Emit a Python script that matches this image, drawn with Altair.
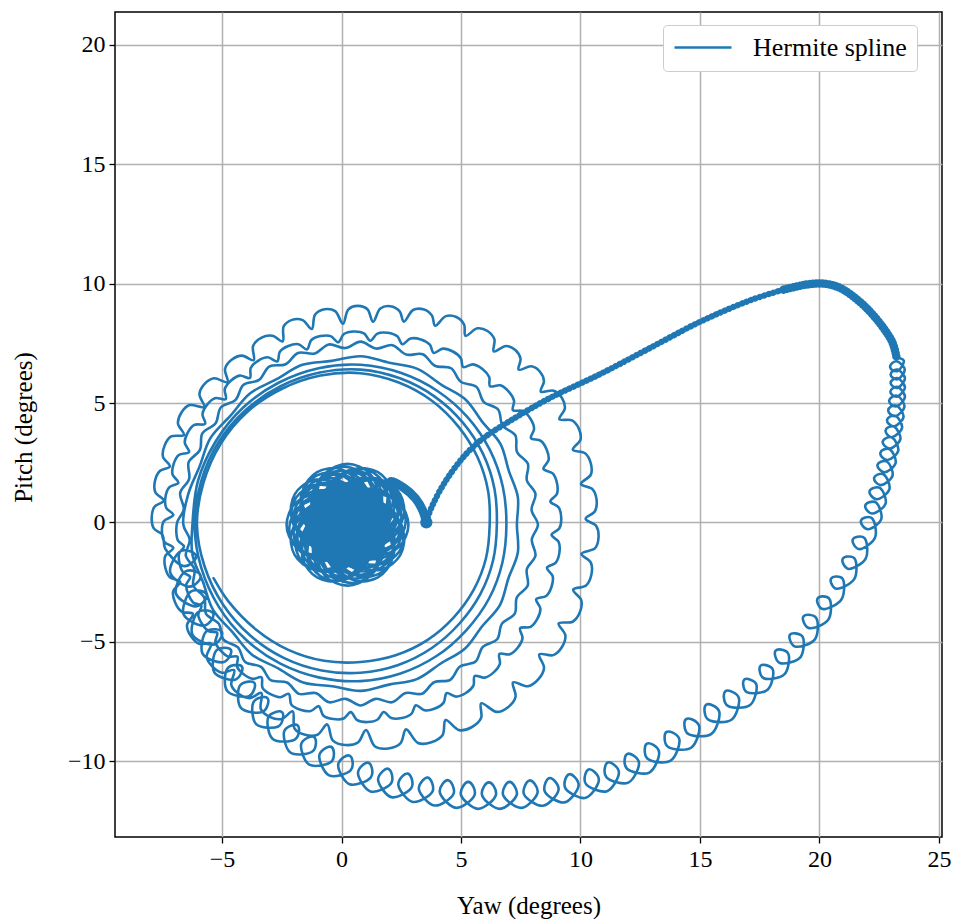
import altair as alt
import pandas as pd

BLUE = "#1f77b4"
SERIES = "Hermite spline"
FONT = "Liberation Serif"

X_DOMAIN = [-9.48, 25.13]
Y_DOMAIN = [-13.18, 21.38]
X_TICKS = [-5, 0, 5, 10, 15, 20, 25]
Y_TICKS = [-10, -5, 0, 5, 10, 15, 20]

# ---- inner cluster: (angle deg, radius) readings about the cluster centre ----
CLUSTER_POLE = (0.25, -0.10)
CLUSTER = [
    (0, 0), (-67.5, .98), (-45, 1.8), (-22.5, 2.36), (0, 2.55), (22.5, 2.36), (45, 1.8), (67.5, .98),
    (0, 0), (-52.5, .88), (-30, 1.63), (-7.5, 2.13), (15, 2.3), (37.5, 2.13), (60, 1.63), (82.5, .88),
    (0, 0), (-37.5, .98), (-15, 1.8), (7.5, 2.36), (30, 2.55), (52.5, 2.36), (75, 1.8), (97.5, .98),
    (0, 0), (-22.5, .88), (0, 1.63), (22.5, 2.13), (45, 2.3), (67.5, 2.13), (90, 1.63), (112.5, .88),
    (0, 0), (-7.5, .98), (15, 1.8), (37.5, 2.36), (60, 2.55), (82.5, 2.36), (105, 1.8), (127.5, .98),
    (0, 0), (7.5, .88), (30, 1.63), (52.5, 2.13), (75, 2.3), (97.5, 2.13), (120, 1.63), (142.5, .88),
    (0, 0), (22.5, .98), (45, 1.8), (67.5, 2.36), (90, 2.55), (112.5, 2.36), (135, 1.8), (157.5, .98),
    (0, 0), (37.5, .88), (60, 1.63), (82.5, 2.13), (105, 2.3), (127.5, 2.13), (150, 1.63), (172.5, .88),
    (0, 0), (52.5, .98), (75, 1.8), (97.5, 2.36), (120, 2.55), (142.5, 2.36), (165, 1.8), (187.5, .98),
    (0, 0), (67.5, .88), (90, 1.63), (112.5, 2.13), (135, 2.3), (157.5, 2.13), (180, 1.63), (202.5, .88),
    (0, 0), (82.5, .98), (105, 1.8), (127.5, 2.36), (150, 2.55), (172.5, 2.36), (195, 1.8), (217.5, .98),
    (0, 0), (97.5, .88), (120, 1.63), (142.5, 2.13), (165, 2.3), (187.5, 2.13), (210, 1.63), (232.5, .88),
    (0, 0), (112.5, .98), (135, 1.8), (157.5, 2.36), (180, 2.55), (202.5, 2.36), (225, 1.8), (247.5, .98),
    (0, 0), (127.5, .88), (150, 1.63), (172.5, 2.13), (195, 2.3), (217.5, 2.13), (240, 1.63), (262.5, .88),
    (0, 0), (142.5, .98), (165, 1.8), (187.5, 2.36), (210, 2.55), (232.5, 2.36), (255, 1.8), (277.5, .98),
    (0, 0), (157.5, .88), (180, 1.63), (202.5, 2.13), (225, 2.3), (247.5, 2.13), (270, 1.63), (292.5, .88),
    (0, 0), (172.5, .98), (195, 1.8), (217.5, 2.36), (240, 2.55), (262.5, 2.36), (285, 1.8), (307.5, .98),
    (0, 0), (187.5, .88), (210, 1.63), (232.5, 2.13), (255, 2.3), (277.5, 2.13), (300, 1.63), (322.5, .88),
    (0, 0), (202.5, .98), (225, 1.8), (247.5, 2.36), (270, 2.55), (292.5, 2.36), (315, 1.8), (337.5, .98),
    (0, 0), (217.5, .88), (240, 1.63), (262.5, 2.13), (285, 2.3), (307.5, 2.13), (330, 1.63), (352.5, .88),
    (0, 0), (232.5, .98), (255, 1.8), (277.5, 2.36), (300, 2.55), (322.5, 2.36), (345, 1.8), (7.5, .98),
    (0, 0), (247.5, .88), (270, 1.63), (292.5, 2.13), (315, 2.3), (337.5, 2.13), (0, 1.63), (22.5, .88),
    (0, 0), (262.5, .98), (285, 1.8), (307.5, 2.36), (330, 2.55), (352.5, 2.36), (15, 1.8), (37.5, .98),
    (0, 0), (277.5, .88), (300, 1.63), (322.5, 2.13), (345, 2.3), (7.5, 2.13), (30, 1.63), (52.5, .88),
    # second pass of the rosette
    (0, 0), (-60, .94), (-37.5, 1.73), (-15, 2.26), (7.5, 2.45), (30, 2.26), (52.5, 1.73), (75, .94),
    (0, 0), (-45, .84), (-22.5, 1.56), (0, 2.03), (22.5, 2.2), (45, 2.03), (67.5, 1.56), (90, .84),
    (0, 0), (-30, .94), (-7.5, 1.73), (15, 2.26), (37.5, 2.45), (60, 2.26), (82.5, 1.73), (105, .94),
    (0, 0), (-15, .84), (7.5, 1.56), (30, 2.03), (52.5, 2.2), (75, 2.03), (97.5, 1.56), (120, .84),
    (0, 0), (0, .94), (22.5, 1.73), (45, 2.26), (67.5, 2.45), (90, 2.26), (112.5, 1.73), (135, .94),
    (0, 0), (15, .84), (37.5, 1.56), (60, 2.03), (82.5, 2.2), (105, 2.03), (127.5, 1.56), (150, .84),
    (0, 0), (30, .94), (52.5, 1.73), (75, 2.26), (97.5, 2.45), (120, 2.26), (142.5, 1.73), (165, .94),
    (0, 0), (45, .84), (67.5, 1.56), (90, 2.03), (112.5, 2.2), (135, 2.03), (157.5, 1.56), (180, .84),
    (0, 0), (60, .94), (82.5, 1.73), (105, 2.26), (127.5, 2.45), (150, 2.26), (172.5, 1.73), (195, .94),
    (0, 0), (75, .84), (97.5, 1.56), (120, 2.03), (142.5, 2.2), (165, 2.03), (187.5, 1.56), (210, .84),
    (0, 0), (90, .94), (112.5, 1.73), (135, 2.26), (157.5, 2.45), (180, 2.26), (202.5, 1.73), (225, .94),
    (0, 0), (105, .84), (127.5, 1.56), (150, 2.03), (172.5, 2.2), (195, 2.03), (217.5, 1.56), (240, .84),
    (0, 0), (120, .94), (142.5, 1.73), (165, 2.26), (187.5, 2.45), (210, 2.26), (232.5, 1.73), (255, .94),
    (0, 0), (135, .84), (157.5, 1.56), (180, 2.03), (202.5, 2.2), (225, 2.03), (247.5, 1.56), (270, .84),
    (0, 0), (150, .94), (172.5, 1.73), (195, 2.26), (217.5, 2.45), (240, 2.26), (262.5, 1.73), (285, .94),
    (0, 0), (165, .84), (187.5, 1.56), (210, 2.03), (232.5, 2.2), (255, 2.03), (277.5, 1.56), (300, .84),
    (0, 0), (180, .94), (202.5, 1.73), (225, 2.26), (247.5, 2.45), (270, 2.26), (292.5, 1.73), (315, .94),
    (0, 0), (195, .84), (217.5, 1.56), (240, 2.03), (262.5, 2.2), (285, 2.03), (307.5, 1.56), (330, .84),
    (0, 0), (210, .94), (232.5, 1.73), (255, 2.26), (277.5, 2.45), (300, 2.26), (322.5, 1.73), (345, .94),
    (0, 0), (225, .84), (247.5, 1.56), (270, 2.03), (292.5, 2.2), (315, 2.03), (337.5, 1.56), (360, .84),
    (0, 0), (240, .94), (262.5, 1.73), (285, 2.26), (307.5, 2.45), (330, 2.26), (352.5, 1.73), (375, .94),
    (0, 0), (255, .84), (277.5, 1.56), (300, 2.03), (322.5, 2.2), (345, 2.03), (367.5, 1.56), (390, .84),
    (0, 0), (270, .94), (292.5, 1.73), (315, 2.26), (337.5, 2.45), (360, 2.26), (382.5, 1.73), (405, .94),
    (0, 0), (285, .84), (307.5, 1.56), (330, 2.03), (352.5, 2.2), (375, 2.03), (397.5, 1.56), (420, .84),
    # exit towards the hook
    (0, 0), (-22.5, .98), (0, 1.8), (22.5, 2.36), (45, 2.55),
]

HOOK = [(2.60, 1.45), (3.10, 1.00), (3.42, 0.45), (3.55, 0.02)]
BLOB = [(3.55, 0.0)]

ARC_A = [(3.62, 0.25), (3.80, 0.70), (4.10, 1.30), (4.50, 1.95), (5.20, 2.85), (5.90, 3.50),
         (7.30, 4.40), (8.70, 5.20), (10.80, 6.20), (12.90, 7.30), (15.00, 8.40), (17.10, 9.30),
         (18.50, 9.75)]
ARC_B = [(19.50, 9.97), (20.20, 10.00), (20.80, 9.85), (21.30, 9.55),
         (22.00, 8.95), (22.60, 8.25), (23.05, 7.55), (23.22, 6.95)]

# nutation loops along the big ellipse:
# connector, front, front shoulder, apex, back shoulder, back  (one row per loop)
LOOPS = [
    (23.53, 6.78), (23.29, 6.35), (23.07, 6.37), (22.96, 6.50), (23.03, 6.66), (23.23, 6.75),
    (23.57, 6.41), (23.29, 6.00), (23.08, 6.05), (22.98, 6.19), (23.06, 6.33), (23.27, 6.40),
    (23.58, 6.03), (23.28, 5.64), (23.07, 5.70), (22.98, 5.84), (23.07, 5.98), (23.28, 6.04),
    (23.58, 5.65), (23.26, 5.27), (23.05, 5.34), (22.97, 5.48), (23.07, 5.62), (23.28, 5.67),
    (23.58, 5.26), (23.23, 4.86), (23.00, 4.94), (22.92, 5.10), (23.03, 5.25), (23.27, 5.30),
    (23.56, 4.85), (23.19, 4.45), (22.96, 4.54), (22.88, 4.70), (22.99, 4.85), (23.23, 4.89),
    (23.52, 4.42), (23.13, 4.02), (22.91, 4.12), (22.83, 4.29), (22.95, 4.43), (23.19, 4.46),
    (23.46, 3.97), (23.05, 3.57), (22.84, 3.68), (22.77, 3.85), (22.89, 3.99), (23.13, 4.01),
    (23.39, 3.49), (22.96, 3.09), (22.72, 3.21), (22.65, 3.39), (22.79, 3.53), (23.05, 3.55),
    (23.30, 3.00), (22.85, 2.61), (22.62, 2.73), (22.55, 2.91), (22.69, 3.05), (22.95, 3.06),
    (23.19, 2.49), (22.73, 2.10), (22.50, 2.23), (22.43, 2.41), (22.57, 2.54), (22.84, 2.54),
    (23.06, 1.96), (22.58, 1.56), (22.35, 1.69), (22.29, 1.87), (22.43, 2.00), (22.70, 2.00),
    (22.93, 1.39), (22.41, 0.97), (22.16, 1.12), (22.10, 1.31), (22.26, 1.44), (22.55, 1.43),
    (22.77, 0.79), (22.23, 0.37), (21.98, 0.52), (21.92, 0.71), (22.08, 0.84), (22.37, 0.83),
    (22.59, 0.15), (22.04, -0.29), (21.80, -0.13), (21.74, 0.07), (21.91, 0.20), (22.20, 0.17),
    (22.33, -0.63), (21.68, -1.12), (21.44, -0.93), (21.40, -0.71), (21.59, -0.60), (21.89, -0.66),
    (21.94, -1.51), (21.23, -1.95), (21.00, -1.74), (20.98, -1.52), (21.17, -1.43), (21.47, -1.51),
    (21.46, -2.37), (20.71, -2.78), (20.50, -2.56), (20.49, -2.35), (20.68, -2.27), (20.97, -2.36),
    (20.92, -3.23), (20.14, -3.63), (19.93, -3.40), (19.93, -3.18), (20.13, -3.10), (20.42, -3.21),
    (20.37, -4.08), (19.57, -4.43), (19.34, -4.17), (19.33, -3.94), (19.55, -3.87), (19.87, -4.01),
    (19.81, -4.90), (18.98, -5.20), (18.77, -4.93), (18.77, -4.70), (18.99, -4.65), (19.30, -4.80),
    (19.19, -5.67), (18.34, -5.89), (18.15, -5.60), (18.17, -5.37), (18.40, -5.33), (18.70, -5.51),
    (18.53, -6.37), (17.67, -6.53), (17.50, -6.23), (17.54, -6.00), (17.77, -5.98), (18.05, -6.17),
    (17.83, -7.01), (16.96, -7.11), (16.81, -6.80), (16.86, -6.58), (17.09, -6.58), (17.36, -6.79),
    (17.10, -7.65), (16.17, -7.69), (16.00, -7.32), (16.07, -7.07), (16.33, -7.09), (16.63, -7.36),
    (16.32, -8.27), (15.35, -8.26), (15.19, -7.89), (15.26, -7.64), (15.52, -7.66), (15.81, -7.94),
    (15.48, -8.86), (14.51, -8.86), (14.35, -8.49), (14.42, -8.24), (14.68, -8.26), (14.97, -8.54),
    (14.63, -9.44), (13.66, -9.40), (13.52, -9.02), (13.60, -8.78), (13.86, -8.81), (14.14, -9.10),
    (13.76, -9.99), (12.81, -9.90), (12.69, -9.51), (12.78, -9.27), (13.03, -9.31), (13.29, -9.62),
    (12.88, -10.48), (11.95, -10.32), (11.85, -9.93), (11.96, -9.70), (12.21, -9.76), (12.45, -10.08),
    (12.00, -10.90), (11.09, -10.68), (11.02, -10.28), (11.14, -10.06), (11.39, -10.14), (11.61, -10.48),
    (11.11, -11.26), (10.23, -10.96), (10.20, -10.56), (10.34, -10.35), (10.58, -10.45), (10.77, -10.80),
    (10.22, -11.54), (9.38, -11.16), (9.37, -10.75), (9.53, -10.55), (9.76, -10.67), (9.92, -11.04),
    (9.33, -11.73), (8.52, -11.30), (8.54, -10.90), (8.71, -10.71), (8.93, -10.84), (9.08, -11.22),
    (8.43, -11.87), (7.64, -11.40), (7.69, -11.00), (7.87, -10.81), (8.08, -10.95), (8.20, -11.34),
    (7.53, -11.96), (6.77, -11.44), (6.84, -11.04), (7.03, -10.87), (7.23, -11.03), (7.33, -11.42),
    (6.63, -12.00), (5.89, -11.45), (5.97, -11.05), (6.17, -10.89), (6.37, -11.05), (6.45, -11.45),
    (5.71, -12.00), (5.00, -11.42), (5.10, -11.03), (5.31, -10.87), (5.50, -11.04), (5.56, -11.44),
    (4.80, -11.96), (4.12, -11.33), (4.24, -10.94), (4.46, -10.80), (4.64, -10.99), (4.68, -11.39),
    (3.89, -11.86), (3.24, -11.19), (3.39, -10.82), (3.61, -10.69), (3.78, -10.89), (3.80, -11.29),
    (2.98, -11.71), (2.38, -11.01), (2.54, -10.64), (2.77, -10.52), (2.93, -10.72), (2.92, -11.13),
    (2.09, -11.51), (1.53, -10.79), (1.72, -10.43), (1.95, -10.32), (2.10, -10.53), (2.07, -10.94),
    (1.21, -11.27), (0.69, -10.51), (0.89, -10.16), (1.13, -10.07), (1.27, -10.29), (1.22, -10.69),
    (0.34, -10.97), (-0.14, -10.17), (0.09, -9.84), (0.34, -9.77), (0.46, -10.00), (0.38, -10.39),
    (-0.52, -10.60), (-0.93, -9.77), (-0.67, -9.46), (-0.42, -9.41), (-0.32, -9.65), (-0.43, -10.03),
    (-1.35, -10.15), (-1.69, -9.30), (-1.41, -9.02), (-1.15, -8.99), (-1.07, -9.23), (-1.22, -9.60),
    (-2.14, -9.64), (-2.40, -8.76), (-2.10, -8.51), (-1.84, -8.50), (-1.78, -8.75), (-1.96, -9.10),
    (-2.88, -9.07), (-3.07, -8.17), (-2.75, -7.94), (-2.49, -7.95), (-2.45, -8.20), (-2.65, -8.55),
    (-3.57, -8.45), (-3.69, -7.54), (-3.35, -7.33), (-3.10, -7.36), (-3.08, -7.61), (-3.31, -7.94),
    (-4.21, -7.77), (-4.26, -6.85), (-3.90, -6.67), (-3.65, -6.72), (-3.65, -6.98), (-3.90, -7.29),
    (-4.79, -7.05), (-4.78, -6.13), (-4.41, -5.97), (-4.17, -6.04), (-4.19, -6.30), (-4.46, -6.59),
    (-5.32, -6.29), (-5.25, -5.38), (-4.87, -5.25), (-4.63, -5.34), (-4.67, -5.59), (-4.96, -5.86),
    (-5.81, -5.51), (-5.67, -4.58), (-5.26, -4.48), (-5.01, -4.59), (-5.06, -4.86), (-5.39, -5.12),
    (-6.24, -4.70), (-6.02, -3.77), (-5.61, -3.69), (-5.37, -3.82), (-5.44, -4.09), (-5.78, -4.33),
    (-6.61, -3.85), (-6.33, -2.92), (-5.89, -2.87), (-5.65, -3.02), (-5.74, -3.29), (-6.11, -3.52),
    (-6.93, -2.98), (-6.56, -2.07), (-6.13, -2.05), (-5.90, -2.22), (-6.01, -2.49), (-6.40, -2.69),
    (-7.17, -2.09), (-6.74, -1.21), (-6.31, -1.22), (-6.09, -1.41), (-6.22, -1.66), (-6.62, -1.83),
    (-7.38, -1.10),
]

# ---- spiral rings: (angle deg, radius) readings about one pole ----
RING_POLE = (0.80, -0.10)
REV1 = [
    (183, 8.3), (181, 8.66), (178, 8.75), (175, 8.66),
    (173, 8.3), (171, 8.7), (168, 8.8), (165, 8.7),
    (163, 8.35), (161, 8.75), (158, 8.85), (155, 8.75),
    (153, 8.3), (151, 8.74), (148, 8.85), (145, 8.74),
    (143, 8.2), (141, 8.68), (138, 8.8), (135, 8.68),
    (133, 8.17), (131, 8.65), (128, 8.77), (125, 8.65),
    (123, 8.22), (121, 8.74), (118, 8.87), (115, 8.74),
    (113, 8.35), (111.2, 8.91), (108.5, 9.05), (105.8, 8.91),
    (104, 8.45), (102.2, 9.01), (99.5, 9.15), (96.8, 9.01),
    (95, 8.45), (93.3, 9.03), (90.8, 9.17), (88.2, 9.03),
    (86.5, 8.52), (84.8, 9.1), (82.3, 9.24), (79.7, 9.1),
    (78, 8.7), (76.3, 9.26), (73.8, 9.4), (71.2, 9.26),
    (69.5, 8.9), (67.8, 9.44), (65.3, 9.58), (62.7, 9.44),
    (61, 9.05), (59.3, 9.57), (56.8, 9.7), (54.2, 9.57),
    (52.5, 9.15), (50.9, 9.65), (48.5, 9.77), (46.1, 9.65),
    (44.5, 9.27), (42.9, 9.75), (40.5, 9.87), (38.1, 9.75),
    (36.5, 9.38), (34.8, 9.84), (32.3, 9.96), (29.7, 9.84),
    (28, 9.42), (26.3, 9.87), (23.8, 9.98), (21.2, 9.87),
    (19.5, 9.42), (17.7, 9.86), (15, 9.97), (12.3, 9.86),
    (10.5, 9.38), (8.7, 9.82), (6, 9.93), (3.3, 9.82),
    (1.5, 9.42), (-0.3, 9.86), (-3, 9.97), (-5.7, 9.86),
    (-7.5, 9.32), (-9.4, 9.77), (-12.3, 9.88), (-15.1, 9.77),
    (-17, 9.3), (-18.9, 9.76), (-21.8, 9.88), (-24.6, 9.76),
    (-26.5, 9.26), (-28.4, 9.74), (-31.3, 9.86), (-34.1, 9.74),
    (-36, 9.24), (-38, 9.74), (-41, 9.86), (-44, 9.74),
    (-46, 9.18), (-48, 9.69), (-51, 9.82), (-54, 9.69),
    (-56, 9.02), (-58.1, 9.54), (-61.3, 9.67), (-64.4, 9.54),
    (-66.5, 8.92), (-68.7, 9.45), (-72, 9.58), (-75.3, 9.45),
    (-77.5, 8.78), (-79.7, 9.31), (-83, 9.44), (-86.3, 9.31),
    (-88.5, 8.6), (-90.7, 9.12), (-94, 9.25), (-97.3, 9.12),
    (-99.5, 8.48), (-101.6, 8.98), (-104.8, 9.1), (-107.9, 8.98),
    (-110, 8.32), (-112.1, 8.78), (-115.3, 8.9), (-118.4, 8.78),
    (-120.5, 8.18), (-122.6, 8.62), (-125.8, 8.73), (-128.9, 8.62),
    (-131, 8.07), (-133.1, 8.49), (-136.3, 8.59), (-139.4, 8.49),
    (-141.5, 8.0), (-143.6, 8.4), (-146.8, 8.5), (-149.9, 8.4),
    (-152, 7.95), (-154.1, 8.33), (-157.3, 8.42), (-160.4, 8.33),
    (-162.5, 7.92), (-164.6, 8.28), (-167.8, 8.37), (-170.9, 8.28),
    (-173, 7.9), (-175, 8.24), (-178, 8.32), (-181, 8.24),
]
REV2 = [
    (177, 7.85), (175, 8.17), (172, 8.25), (169, 8.17),
    (167, 7.83), (165, 8.15), (162, 8.23), (159, 8.15),
    (157, 7.8), (155, 8.12), (152, 8.2), (149, 8.12),
    (147, 7.76), (145, 8.08), (142, 8.16), (139, 8.08),
    (137, 7.72), (135, 8.04), (132, 8.12), (129, 8.04),
    (127, 7.7), (125, 8.02), (122, 8.1), (119, 8.02),
    (117, 7.68), (115, 8.0), (112, 8.08), (109, 8.0),
    (107, 7.68), (105, 8.0), (102, 8.08), (99, 8.0),
    (97, 7.7), (95, 8.02), (92, 8.1), (89, 8.02),
    (87, 7.72), (85, 8.04), (82, 8.12), (79, 8.04),
    (77, 7.76), (75, 8.08), (72, 8.16), (69, 8.08),
    (67, 7.82), (65, 8.14), (62, 8.22), (59, 8.14),
    (57, 7.88), (55, 8.2), (52, 8.28), (49, 8.2),
    (47, 7.94), (45, 8.26), (42, 8.34), (39, 8.26),
    (37, 7.98), (35, 8.3), (32, 8.38), (29, 8.3),
    (27, 8.0), (25, 8.32), (22, 8.4), (19, 8.32),
    (17, 8.0), (15, 8.32), (12, 8.4), (9, 8.32),
    (7, 8.0), (5, 8.32), (2, 8.4), (-1, 8.32),
    (-3, 8.0), (-5, 8.32), (-8, 8.4), (-11, 8.32),
    (-13, 8.0), (-15, 8.32), (-18, 8.4), (-21, 8.32),
    (-23, 7.98), (-25, 8.3), (-28, 8.38), (-31, 8.3),
    (-33, 7.96), (-35, 8.27), (-38, 8.35), (-41, 8.27),
    (-43, 7.94), (-45, 8.24), (-48, 8.32), (-51, 8.24),
    (-53, 7.93), (-55, 8.23), (-58, 8.31), (-61, 8.23),
    (-63, 7.92), (-65, 8.22), (-68, 8.3), (-71, 8.22),
    (-73, 7.91), (-75, 8.2), (-78, 8.28), (-81, 8.2),
    (-83, 7.9), (-85, 8.19), (-88, 8.27), (-91, 8.19),
    (-93, 7.86), (-95, 8.15), (-98, 8.22), (-101, 8.15),
    (-103, 7.8), (-105, 8.08), (-108, 8.15), (-111, 8.08),
    (-113, 7.7), (-115, 7.97), (-118, 8.04), (-121, 7.97),
    (-123, 7.62), (-125, 7.88), (-128, 7.95), (-131, 7.88),
    (-133, 7.56), (-135, 7.82), (-138, 7.88), (-141, 7.82),
    (-143, 7.52), (-145, 7.77), (-148, 7.83), (-151, 7.77),
    (-153, 7.48), (-155, 7.72), (-158, 7.78), (-161, 7.72),
    (-163, 7.46), (-165, 7.69), (-168, 7.75), (-171, 7.69),
    (-173, 7.45), (-175, 7.67), (-178, 7.72), (-181, 7.67),
]
REV3 = [
    (175, 7.43), (170, 7.67), (165, 7.43), (160, 7.66), (155, 7.42), (150, 7.65),
    (145, 7.41), (140, 7.64), (135, 7.40), (130, 7.64), (125, 7.41), (120, 7.65),
    (115, 7.42), (110, 7.66), (105, 7.43), (100, 7.67), (95, 7.43), (90, 7.67),
    (85, 7.41), (80, 7.64), (75, 7.38), (70, 7.60), (65, 7.35), (60, 7.57),
    (55, 7.31), (50, 7.54), (45, 7.28), (40, 7.51), (35, 7.25), (30, 7.48),
    (25, 7.22), (20, 7.45), (15, 7.20), (10, 7.43), (5, 7.18), (0, 7.42),
    (-5, 7.19), (-10, 7.43), (-15, 7.20), (-20, 7.44), (-25, 7.21), (-30, 7.45),
    (-35, 7.22), (-40, 7.46), (-45, 7.23), (-50, 7.48), (-55, 7.25), (-60, 7.50),
    (-65, 7.28), (-70, 7.53), (-75, 7.30), (-80, 7.55), (-85, 7.32), (-90, 7.57),
    (-95, 7.32), (-100, 7.55), (-105, 7.30), (-110, 7.54), (-115, 7.29), (-120, 7.52),
    (-125, 7.27), (-130, 7.51), (-135, 7.26), (-140, 7.49), (-145, 7.24), (-150, 7.47),
    (-155, 7.22), (-160, 7.45), (-165, 7.20), (-170, 7.43), (-175, 7.18), (-180, 7.42),
]
REV4 = [
    (170, 7.33), (160, 7.17), (150, 7.26), (140, 7.11), (130, 7.19), (120, 7.04),
    (110, 7.13), (100, 6.97), (90, 7.06), (80, 6.89), (70, 6.95), (60, 6.77),
    (50, 6.84), (40, 6.67), (30, 6.76), (20, 6.60), (10, 6.68), (0, 6.54),
    (-10, 6.68), (-20, 6.58), (-30, 6.73), (-40, 6.63), (-50, 6.78), (-60, 6.71),
    (-70, 6.88), (-80, 6.80), (-90, 6.96), (-100, 6.87), (-110, 7.03), (-120, 6.94),
    (-130, 7.09), (-140, 7.00), (-150, 7.13), (-160, 7.02), (-170, 7.15), (-180, 7.04),
]
REV5 = [
    (165, 7.05), (150, 7.0), (135, 6.95), (120, 6.87), (105, 6.79), (90, 6.7),
    (75, 6.58), (60, 6.46), (45, 6.35), (30, 6.25), (15, 6.16), (0, 6.1),
    (-15, 6.14), (-30, 6.2), (-45, 6.25), (-60, 6.35), (-75, 6.45), (-90, 6.55),
    (-105, 6.63), (-120, 6.72), (-135, 6.8), (-150, 6.86), (-165, 6.91), (-180, 6.95),
]
REV6 = [
    (165, 6.92), (150, 6.88), (135, 6.8), (120, 6.7), (105, 6.6), (90, 6.5),
    (75, 6.35), (60, 6.2), (45, 6.05), (30, 5.92), (15, 5.8), (0, 5.7),
    (-15, 5.74), (-30, 5.79), (-45, 5.85), (-60, 5.96), (-75, 6.08), (-90, 6.2),
    (-105, 6.32), (-120, 6.44), (-135, 6.55), (-150, 6.66), (-165, 6.76), (-180, 6.85),
]
REV7 = [
    (165, 6.81), (150, 6.77), (135, 6.7), (120, 6.58), (105, 6.47), (90, 6.35),
    (75, 6.17), (60, 5.99), (45, 5.8), (30, 5.65), (15, 5.52), (0, 5.4),
    (-15, 5.43), (-30, 5.46), (-45, 5.5), (-60, 5.58), (-75, 5.66), (-90, 5.75),
    (-105, 5.9), (-120, 6.05), (-135, 6.2), (-150, 6.4), (-160, 6.55),
]

# ---------------- build one ordered table ----------------
rows = []
marks = {}


def add(name, pts, pole=None):
    start = len(rows)
    for p in pts:
        if pole is None:
            rows.append(dict(cx=p[0], cy=p[1], ang=0.0, rad=0.0))
        else:
            rows.append(dict(cx=pole[0], cy=pole[1], ang=float(p[0]), rad=float(p[1])))
    marks[name] = (start, len(rows) - 1)


add("cluster", CLUSTER, CLUSTER_POLE)
add("hook", HOOK)
add("arc_a", ARC_A)
add("arc_b", ARC_B)
add("loops", LOOPS)
for k, rev in enumerate([REV1, REV2, REV3, REV4, REV5, REV6, REV7]):
    add(f"rev{k}", rev, RING_POLE)

df = pd.DataFrame(rows)
df["i"] = range(len(df))
df["series"] = SERIES

blob_df = pd.DataFrame({"cx": [p[0] for p in BLOB], "cy": [p[1] for p in BLOB],
                        "ang": [0.0], "rad": [0.0], "series": [SERIES]})

X = alt.X("x:Q", scale=alt.Scale(domain=X_DOMAIN, nice=False, zero=False),
          axis=alt.Axis(values=X_TICKS, title="Yaw (degrees)", titleX=413.5, titleY=68,
                        titleBaseline="middle", titleAlign="center"))
Y = alt.Y("y:Q", scale=alt.Scale(domain=Y_DOMAIN, nice=False, zero=False),
          axis=alt.Axis(values=Y_TICKS, title="Pitch (degrees)", titleX=-92, titleY=415,
                        titleAngle=270, titleBaseline="middle", titleAlign="center"))
O = alt.Order("i:Q")
C_leg = alt.Color("series:N", scale=alt.Scale(domain=[SERIES], range=[BLUE]),
                  legend=alt.Legend(title=None, orient="none", legendX=548, legendY=13))
C = alt.Color("series:N", scale=alt.Scale(domain=[SERIES], range=[BLUE]), legend=None)

calc = dict(x="datum.cx + datum.rad * cos(datum.ang * PI / 180)",
            y="datum.cy + datum.rad * sin(datum.ang * PI / 180)")

base = alt.Chart(df).transform_calculate(**calc)


def between(a, b):
    return f"datum.i >= {a} && datum.i <= {b}"


main = base.mark_line(interpolate="catmull-rom", strokeWidth=2.6, strokeJoin="round",
                      strokeCap="round").encode(x=X, y=Y, order=O, color=C_leg)

c0, c1 = marks["cluster"]
h0, h1 = marks["hook"]
a0, a1 = marks["arc_a"]
b0, b1 = marks["arc_b"]

# densest inner part of the rosette
core = base.transform_filter(between(c0, c1 - 5) + " && datum.rad <= 1.85").mark_line(
    interpolate="catmull-rom", strokeWidth=4, strokeJoin="round"
).encode(x=X, y=Y, order=O, color=C)

thick = base.transform_filter(between(c1 - 1, h1)).mark_line(
    interpolate="catmull-rom", strokeWidth=9, strokeCap="round", strokeJoin="round"
).encode(x=X, y=Y, order=O, color=C)

dots_a = base.transform_filter(between(h1, a1)).mark_line(
    interpolate="catmull-rom", strokeWidth=6.3, strokeCap="round", strokeDash=[0.1, 4.6]
).encode(x=X, y=Y, order=O, color=C)

dots_b = base.transform_filter(between(a1, b1)).mark_line(
    interpolate="catmull-rom", strokeWidth=8.5, strokeCap="round", strokeDash=[0.1, 3.2]
).encode(x=X, y=Y, order=O, color=C)

blob = alt.Chart(blob_df).transform_calculate(**calc).mark_circle(size=150, opacity=1).encode(
    x=X, y=Y, color=C)

chart = alt.layer(main, core, thick, dots_a, dots_b, blob).properties(
    width=827, height=825,
    padding={"left": 115, "top": 12, "right": 14, "bottom": 82},
    autosize=alt.AutoSizeParams(type="none"),
    background="white",
).configure_axis(
    grid=True, gridColor="#b0b0b0", gridWidth=1.5, domain=False,
    tickColor="black", tickSize=6, tickWidth=1.3,
    labelFont=FONT, labelFontSize=24, labelColor="black", labelPadding=4,
    titleFont=FONT, titleFontSize=25, titleFontWeight="normal", titleColor="black",
).configure_view(
    stroke="black", strokeWidth=1.5
).configure_legend(
    padding=10, cornerRadius=4, strokeColor="#cccccc", fillColor="white",
    symbolType="stroke", symbolSize=3250, symbolStrokeWidth=2.6, clipHeight=25,
    labelFont=FONT, labelFontSize=26, labelColor="black", labelOffset=20,
)

chart.save("out.html", embed_options={"renderer": "svg", "actions": False})
